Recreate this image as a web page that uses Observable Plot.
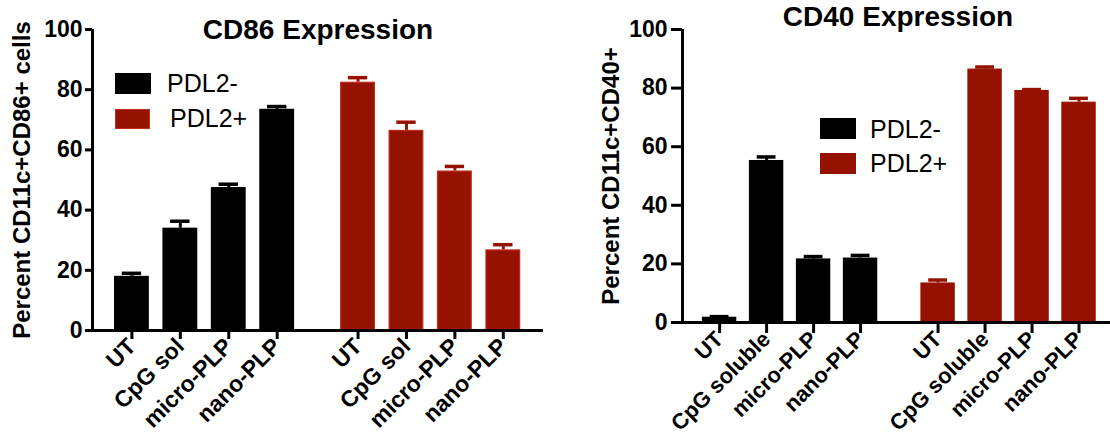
<!DOCTYPE html>
<html>
<head>
<meta charset="utf-8">
<script src="https://cdn.jsdelivr.net/npm/d3@7"></script>
<script src="https://cdn.jsdelivr.net/npm/@observablehq/plot@0.6"></script>
<style>
  html, body { margin: 0; padding: 0; background: #fff; }
  #wrap { position: relative; width: 1110px; height: 438px; overflow: hidden; font-family: "Liberation Sans", Arial, sans-serif; }
  .panel { position: absolute; top: 0; }
  .title { position: absolute; font-weight: bold; font-size: 28px; line-height: 1; white-space: nowrap; transform: translateX(-50%); }
  .lg-sw { position: absolute; }
  .lg-tx { position: absolute; font-size: 25px; line-height: 1; white-space: nowrap; }
</style>
</head>
<body>
<div id="wrap"></div>
<script>
// ---------------- data ----------------
const groups = ["PDL2-", "PDL2+"];
const colors = ["#000000", "#961200"];
const yTicks = [0, 20, 40, 60, 80, 100];

const cd86Categories = ["UT", "CpG sol", "micro-PLP", "nano-PLP"];
const cd86Neg = [18, 34, 47.5, 73.5];
const cd86NegErr = [1, 2.3, 1.1, 0.9];
const cd86Pos = [82.5, 66.5, 53, 26.8];
const cd86PosErr = [1.5, 2.7, 1.5, 1.7];

const cd40Categories = ["UT", "CpG soluble", "micro-PLP", "nano-PLP"];
const cd40Neg = [1.8, 55.3, 21.7, 22];
const cd40NegErr = [0.2, 1.2, 0.8, 0.9];
const cd40Pos = [13.5, 86.5, 79.2, 75.2];
const cd40PosErr = [1, 0.7, 0.3, 1.3];

// ---------------- layout ----------------
const FONT = "'Liberation Sans', Arial, sans-serif";

function rowsFor(categories, neg, negErr, pos, posErr, groupOffset) {
  const rows = [];
  [[neg, negErr], [pos, posErr]].forEach(([vals, errs], gi) => {
    categories.forEach((cat, ci) => {
      rows.push({group: groups[gi], gi, cat, ci, value: vals[ci], err: errs[ci], pos: ci + gi * groupOffset});
    });
  });
  return rows;
}

function panel(opts) {
  const rows = rowsFor(opts.categories, opts.neg, opts.negErr, opts.pos, opts.posErr, opts.groupOffset);
  const tickPos = rows.map(d => d.pos);
  const labelOf = new Map(rows.map(d => [d.pos, d.cat]));
  const bh = opts.barHalf, ch = opts.capHalf;
  return Plot.plot({
    width: opts.width,
    height: 438,
    marginLeft: opts.marginLeft,
    marginRight: opts.marginRight,
    marginTop: opts.marginTop,
    marginBottom: opts.marginBottom,
    style: {fontFamily: FONT, fontSize: "22px", fontWeight: "bold", background: "transparent", overflow: "visible"},
    x: {type: "linear", domain: opts.xDomain},
    y: {domain: [0, 100]},
    color: {domain: groups, range: colors},
    marks: [
      Plot.rectY(rows.filter(d => d.gi === 0), {x1: d => d.pos - bh, x2: d => d.pos + bh, y: "value", fill: colors[0]}),
      Plot.rectY(rows.filter(d => d.gi === 1), {x1: d => d.pos - bh, x2: d => d.pos + bh, y: "value", fill: colors[1], stroke: opts.redStroke, strokeWidth: 1.2, inset: 0.6}),
      Plot.ruleX(rows, {x: "pos", y1: "value", y2: d => d.value + d.err, stroke: "group", strokeWidth: 3}),
      Plot.ruleY(rows, {y: d => d.value + d.err, x1: d => d.pos - ch, x2: d => d.pos + ch, stroke: "group", strokeWidth: 3.5}),
      Plot.axisY({ticks: yTicks, tickSize: opts.yTickSize, tickPadding: opts.yTickPad, fontSize: 23, fontWeight: "bold", strokeWidth: 3, label: null}),
      Plot.axisX({ticks: tickPos, tickFormat: d => labelOf.get(d), tickRotate: -45, tickSize: opts.xTickSize, tickPadding: opts.xTickPad,
        fontSize: opts.xFont, fontWeight: "bold", strokeWidth: 3, label: null}),
      Plot.text([opts.yLabel], {frameAnchor: "left", rotate: -90, lineAnchor: "top", textAnchor: "middle", dx: -opts.labelOffset,
        fontSize: 24, fontWeight: "bold"}),
      Plot.ruleX([opts.xDomain[0]], {strokeWidth: 3}),
      Plot.ruleY([0], {strokeWidth: 3})
    ]
  });
}

const wrap = document.getElementById("wrap");

const left = panel({
  categories: cd86Categories, neg: cd86Neg, negErr: cd86NegErr, pos: cd86Pos, posErr: cd86PosErr,
  groupOffset: 4.67, barHalf: 0.36, capHalf: 0.2,
  width: 560, marginLeft: 92, marginRight: 17, marginTop: 29, marginBottom: 108,
  xDomain: [-0.814, 8.5], yTickSize: 7, yTickPad: 3, xTickSize: 9, xTickPad: 3, xFont: 23,
  yLabel: "Percent CD11c+CD86+ cells", labelOffset: 80, redStroke: "#bd2a18"
});
left.classList.add("panel");
left.style.left = "0px";
wrap.appendChild(left);

const right = panel({
  categories: cd40Categories, neg: cd40Neg, negErr: cd40NegErr, pos: cd40Pos, posErr: cd40PosErr,
  groupOffset: 4.65, barHalf: 0.366, capHalf: 0.2,
  width: 550, marginLeft: 122, marginRight: 0, marginTop: 29, marginBottom: 116,
  xDomain: [-0.79, 8.32], yTickSize: 11, yTickPad: 4, xTickSize: 11, xTickPad: 2, xFont: 22,
  yLabel: "Percent CD11c+CD40+", labelOffset: 81, redStroke: "#961200"
});
right.classList.add("panel");
right.style.left = "560px";
wrap.appendChild(right);

// ---------------- titles ----------------
function addTitle(text, cx, baseline) {
  const d = document.createElement("div");
  d.className = "title";
  d.textContent = text;
  d.style.left = cx + "px";
  d.style.top = (baseline - 28 * 0.8465) + "px";
  wrap.appendChild(d);
}
addTitle("CD86 Expression", 318, 40);
addTitle("CD40 Expression", 898, 27);

// ---------------- legends ----------------
function addLegend(items) {
  items.forEach(it => {
    const s = document.createElement("div");
    s.className = "lg-sw";
    Object.assign(s.style, {left: it.sx + "px", top: it.sy + "px", width: it.sw + "px", height: it.sh + "px", background: it.color,
      boxSizing: "border-box", border: it.border ? ("1.5px solid " + it.border) : "none"});
    wrap.appendChild(s);
    const t = document.createElement("div");
    t.className = "lg-tx";
    t.textContent = it.label;
    t.style.left = it.tx + "px";
    t.style.top = (it.baseline - 25 * 0.8465) + "px";
    wrap.appendChild(t);
  });
}
addLegend([
  {label: groups[0], color: colors[0], sx: 115, sy: 73, sw: 36, sh: 21, tx: 167, baseline: 92},
  {label: groups[1], color: colors[1], border: "#c0301c", sx: 115, sy: 109, sw: 35, sh: 20, tx: 170, baseline: 127}
]);
addLegend([
  {label: groups[0], color: colors[0], sx: 820, sy: 118, sw: 36, sh: 21, tx: 870, baseline: 138},
  {label: groups[1], color: colors[1], sx: 820, sy: 153, sw: 36, sh: 21, tx: 870, baseline: 172}
]);
</script>
</body>
</html>
